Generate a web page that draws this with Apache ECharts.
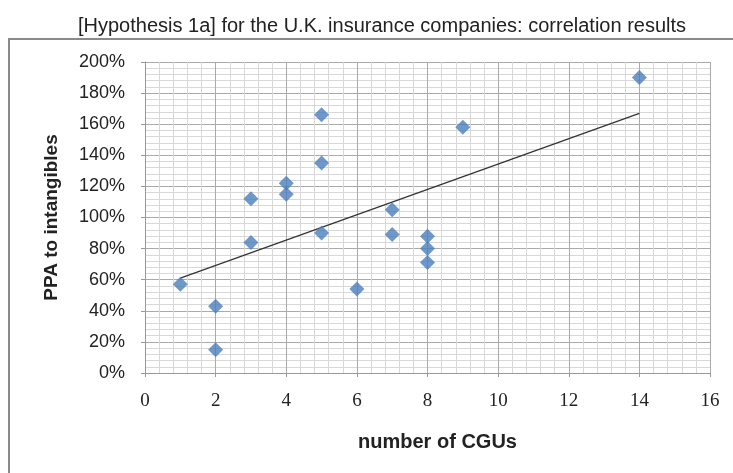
<!DOCTYPE html>
<html><head><meta charset="utf-8">
<script src="https://cdn.jsdelivr.net/npm/echarts@6/dist/echarts.min.js"></script>
<style>html,body{margin:0;padding:0;background:#fff}#c{width:733px;height:473px}</style>
</head><body><div id="c"></div>
<script>
const cguCounts = [1, 2, 2, 3, 3, 4, 4, 5, 5, 5, 6, 7, 7, 8, 8, 8, 9, 14];
const ppaPercent = [57, 43, 15, 84, 112, 122, 115, 166, 135, 90, 54, 105, 89, 88, 80, 71, 158, 190];
const trendX = [1, 14];
const trendY = [61, 167];
const xTicks = [0, 2, 4, 6, 8, 10, 12, 14, 16];
const yTicks = [0, 20, 40, 60, 80, 100, 120, 140, 160, 180, 200];

const chart = echarts.init(document.getElementById('c'));
chart.setOption({
  animation: false,
  title: {
    text: '[Hypothesis 1a] for the U.K. insurance companies: correlation results',
    left: 377, top: 11, textAlign: 'center',
    textStyle: {fontFamily: 'Liberation Sans, Arial', fontSize: 20, fontWeight: 'normal', color: '#222'}
  },
  graphic: [
    {type: 'polyline', shape: {points: [[9, 473], [9, 39], [733, 39]]},
     style: {stroke: '#8a8a8a', lineWidth: 2, fill: null}}
  ],
  grid: {left: 145, right: 23, top: 62, bottom: 100},
  xAxis: {
    type: 'value', min: xTicks[0], max: xTicks[xTicks.length - 1], interval: 2,
    name: 'number of CGUs', nameLocation: 'middle', nameGap: 59,
    nameTextStyle: {fontFamily: 'Liberation Sans, Arial', fontSize: 20, fontWeight: 'bold', color: '#222',
      padding: [0, 0, 0, 20]},
    axisLine: {onZero: false, lineStyle: {color: '#999', width: 1}},
    axisTick: {show: true, length: 4, lineStyle: {color: '#999'}},
    axisLabel: {fontFamily: 'Liberation Serif, Times New Roman', fontSize: 19, color: '#222', margin: 19},
    splitLine: {show: true, lineStyle: {color: '#aaaaaa', width: 1}},
    minorTick: {show: false, splitNumber: 5},
    minorSplitLine: {show: true, lineStyle: {color: '#d8d8d8', width: 1}}
  },
  yAxis: {
    type: 'value', min: yTicks[0], max: yTicks[yTicks.length - 1], interval: 20,
    name: 'PPA to intangibles', nameLocation: 'middle', nameGap: 84,
    nameTextStyle: {fontFamily: 'Liberation Sans, Arial', fontSize: 19, fontWeight: 'bold', color: '#222'},
    axisLine: {show: true, lineStyle: {color: '#999', width: 1}},
    axisTick: {show: true, length: 4, lineStyle: {color: '#999'}},
    axisLabel: {fontFamily: 'Liberation Sans, Arial', fontSize: 18, color: '#222', margin: 20,
      formatter: v => v + '%'},
    splitLine: {show: true, lineStyle: {color: '#aaaaaa', width: 1}},
    minorTick: {show: false, splitNumber: 5},
    minorSplitLine: {show: true, lineStyle: {color: '#d8d8d8', width: 1}}
  },
  series: [
    {
      type: 'line', data: trendX.map((x, i) => [x, trendY[i]]),
      symbol: 'none', lineStyle: {color: '#333', width: 1.2}, z: 3
    },
    {
      type: 'scatter', data: cguCounts.map((x, i) => [x, ppaPercent[i]]),
      symbol: 'diamond', symbolSize: [15, 15],
      itemStyle: {color: '#4a7ebb'}, z: 4
    }
  ]
});
</script></body></html>
